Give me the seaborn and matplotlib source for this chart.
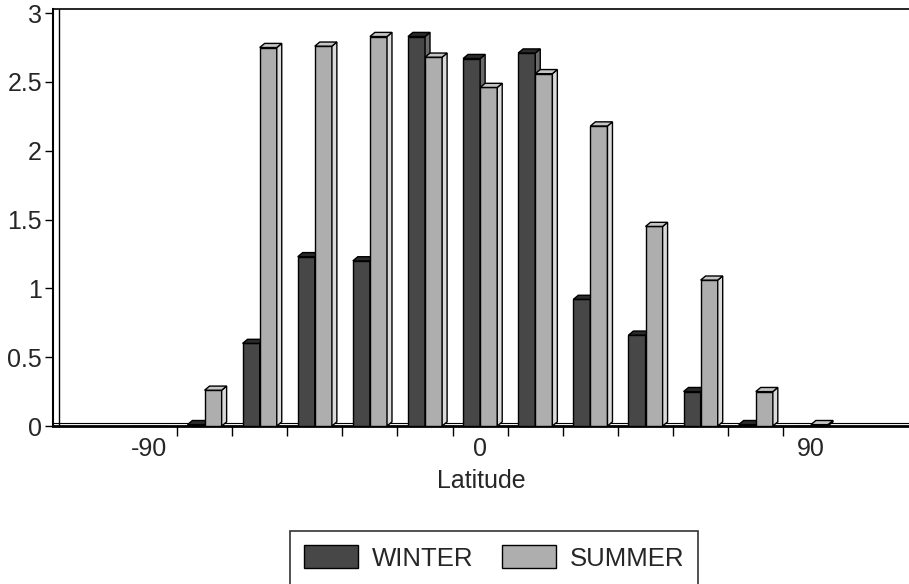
import numpy as np
import pandas as pd
import matplotlib
matplotlib.use("Agg")
import matplotlib.pyplot as plt
from matplotlib.patches import Polygon
import seaborn as sns

# ---- data ----
latitudes = [-90, -75, -60, -45, -30, -15, 0, 15, 30, 45, 60, 75, 90]
winter = [0.0, 0.01, 0.60, 1.23, 1.20, 2.83, 2.67, 2.71, 0.92, 0.66, 0.25, 0.01, 0.0]
summer = [0.0, 0.26, 2.75, 2.76, 2.83, 2.68, 2.46, 2.56, 2.18, 1.45, 1.06, 0.25, 0.01]
series_names = ["WINTER", "SUMMER"]
y_ticks = [0, 0.5, 1, 1.5, 2, 2.5, 3]
y_tick_labels = ["0", "0.5", "1", "1.5", "2", "2.5", "3"]
x_labeled = ["-90", "0", "90"]

sns.set_theme(style="white")
plt.rcParams["font.family"] = ["Liberation Sans", "DejaVu Sans"]

cats = [str(v) for v in latitudes]
df = pd.DataFrame({
    "Latitude": cats * 2,
    "value": winter + summer,
    "season": [series_names[0]] * len(cats) + [series_names[1]] * len(cats),
})

front = {"WINTER": "#474747", "SUMMER": "#aeaeae"}
side = {"WINTER": "#6a6a6a", "SUMMER": "#dadada"}
top = {"WINTER": "#2a2a2a", "SUMMER": "#c6c6c6"}

fig = plt.figure(figsize=(9.09, 5.84), dpi=100)
ax = fig.add_axes([53 / 909, 1 - 426 / 584, 1 - 53 / 909, (426 - 9) / 584])

sns.barplot(data=df, x="Latitude", y="value", hue="season", order=cats,
            hue_order=series_names, palette=front, saturation=1, width=0.62,
            edgecolor="black", linewidth=1.0, ax=ax, legend=True)

# pseudo-3D faces derived from the drawn bars
dx, dy = 0.09, 0.03
for k, cont in enumerate(ax.containers):
    name = series_names[k]
    for bar in cont:
        bar.set_zorder(3 + 2 * k)
        x, w, h = bar.get_x(), bar.get_width(), bar.get_height()
        if h <= 0.005:
            continue
        s = Polygon([(x + w, 0), (x + w + dx, dy), (x + w + dx, h + dy), (x + w, h)],
                    closed=True, facecolor=side[name], edgecolor="black", lw=1.0,
                    zorder=3 + 2 * k)
        t = Polygon([(x, h), (x + dx, h + dy), (x + w + dx, h + dy), (x + w, h)],
                    closed=True, facecolor=top[name], edgecolor="black", lw=1.0,
                    zorder=3 + 2 * k)
        ax.add_patch(s)
        ax.add_patch(t)

handles, labels = ax.get_legend_handles_labels()
if ax.get_legend() is not None:
    ax.get_legend().remove()

ax.set_xlim(-1.75, 13.78)
ax.set_ylim(0, 3.03)

# y axis
ax.set_yticks(y_ticks)
ax.set_yticklabels(y_tick_labels)
ax.tick_params(axis="y", direction="out", length=6, width=1, color="black",
               labelsize=18, pad=2, left=True)

# x axis: labels at -90, 0, 90; tick marks at category boundaries
pos = [cats.index(c) for c in x_labeled]
ax.set_xticks(pos)
ax.set_xticklabels(x_labeled)
ax.set_xticks([i + 0.5 for i in range(len(cats) - 1)], minor=True)
ax.tick_params(axis="x", which="major", length=0, labelsize=18, pad=8)
ax.tick_params(axis="x", which="minor", direction="out", length=7, width=1,
               color="black", bottom=True)
ax.set_xlabel("Latitude", fontsize=18, labelpad=6)
ax.set_ylabel("")

for sp in ["left", "bottom", "top"]:
    ax.spines[sp].set_visible(True)
    ax.spines[sp].set_color("black")
ax.spines["left"].set_linewidth(1.5)
ax.spines["bottom"].set_linewidth(2.0)
ax.spines["top"].set_linewidth(1.2)
ax.spines["right"].set_visible(False)

# back wall / floor edge lines
ax.axvline(-1.75 + 0.11, color="black", lw=1.0, zorder=2)
ax.axhline(0.02, color="black", lw=0.8, zorder=2)

leg = fig.legend(handles, labels, loc="center", bbox_to_anchor=(494 / 909, 1 - 558 / 584),
                 ncol=2, frameon=True, fancybox=False, fontsize=18.5,
                 handlelength=2.1, handleheight=1.0, handletextpad=0.55,
                 columnspacing=1.1, borderpad=0.55, edgecolor="black")
leg.get_frame().set_linewidth(1.2)

fig.savefig("out.png", dpi=100)
